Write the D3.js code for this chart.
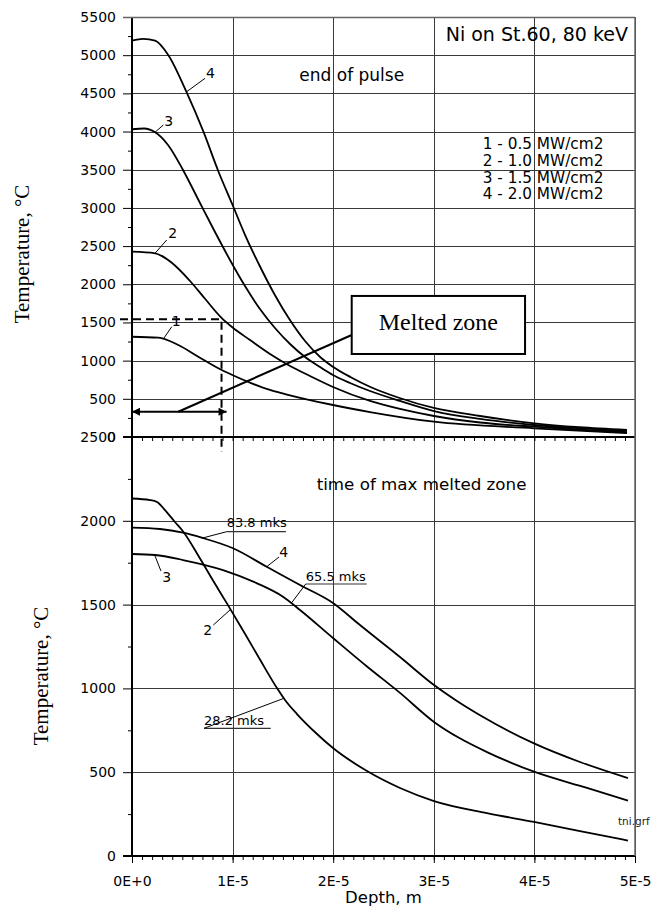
<!DOCTYPE html>
<html>
<head>
<meta charset="utf-8">
<script src="https://cdn.jsdelivr.net/npm/d3@7/dist/d3.min.js"></script>
<style>
  body { margin: 0; background: #fff; }
  svg text { font-family: "DejaVu Sans", sans-serif; fill: #000; }
</style>
</head>
<body>
<div id="chart"></div>
<script>
// depth in micrometres (10 um = 1E-5 m), temperature in deg C

// upper panel: end of pulse, curves 1..4
var pulse1 = [[0,1313],[2.61,1300],[4.6,1205],[6.59,1052],[8.92,877],[9.97,812],[11.9,703],[13.72,616],[15.21,563],[19.98,419],[23.66,327],[30.02,200],[39.96,114],[49.2,52]];
var pulse2 = [[0,2427],[2.3,2406],[3.98,2279],[5.77,2043],[7.26,1810],[8.9,1560],[9.94,1440],[11.73,1270],[13.72,1087],[15.71,930],[17.69,799],[19.98,655],[23.66,472],[26.64,367],[30.02,275],[34.6,190],[39.96,135],[44.53,95],[49.2,65]];
var pulse3 = [[0,4030],[1.2,4040],[2.3,3990],[3.58,3824],[5.07,3497],[6.76,3064],[8.25,2685],[9.74,2318],[11.23,1977],[12.72,1676],[14.21,1427],[15.71,1218],[17.2,1048],[18.69,917],[19.98,812],[21.67,707],[23.66,602],[26.64,472],[30.02,340],[34.6,236],[39.96,157],[44.53,112],[49.2,79]];
var pulse4 = [[0,5190],[1.1,5213],[2.3,5190],[3.6,5003],[5.4,4522],[7.1,3998],[8.6,3474],[10,3038],[11.2,2658],[12.7,2239],[14.2,1860],[15.7,1532],[17.2,1257],[18.7,1048],[20,917],[21.7,786],[23.7,655],[26.6,511],[30,380],[34.6,275],[40,179],[44.5,128],[49.2,92]];

// lower panel: time of max melted zone
var melt2 = [[0,2133],[1.79,2124],[2.49,2112],[3.28,2064],[4.27,1993],[5.1,1935],[6.76,1775],[8.25,1624],[9.54,1497],[11.23,1326],[12.72,1172],[14.41,1002],[15.21,931],[16.4,847],[18.39,728],[19.98,644],[23.36,507],[26.64,406],[30.02,328],[35.29,256],[39.96,203],[44.53,149],[49.3,92]];
var melt3 = [[0,1802],[2.29,1796],[5.07,1766],[9.05,1706],[12.43,1627],[15.01,1547],[16.7,1468],[19.98,1301],[23.36,1131],[26.64,973],[30.02,800],[32.5,705],[35.29,620],[39.96,503],[45.23,406],[49.3,330]];
var melt4 = [[0,1959],[2.78,1951],[5.07,1929],[6.93,1899],[10.04,1836],[13.39,1726],[16.7,1617],[19.98,1510],[22.66,1378],[26.64,1187],[30.02,1020],[32.3,925],[34.6,840],[39.96,672],[44.53,561],[49.3,465]];

var xTickValues = [0, 10, 20, 30, 40, 50];
var xTickLabels = ["0E+0", "1E-5", "2E-5", "3E-5", "4E-5", "5E-5"];
var topTicks = d3.range(0, 5501, 500);
var botTicks = d3.range(0, 2501, 500);
var legendLines = ["1 - 0.5 MW/cm2", "2 - 1.0 MW/cm2", "3 - 1.5 MW/cm2", "4 - 2.0 MW/cm2"];

// curve labels: [text, textDepth, textTemp, leader from (d,T) to (d,T)]
var topLabels = [
  ["4", 7.36, 4697, 5.44, 4522, 7.26, 4697],
  ["3", 3.21, 4073, 2.29, 3990, 3.11, 4086],
  ["2", 3.61, 2602, 2.29, 2406, 3.45, 2580],
  ["1", 3.95, 1454, 3.11, 1283, 3.95, 1444]
];
var botLabels = [
  ["4", 14.64, 1782, 13.39, 1726, 14.61, 1784],
  ["3", 3.01, 1637, 2.29, 1790, 2.88, 1700],
  ["2", 7.09, 1319, 9.74, 1468, 8.08, 1378]
];
// time labels: [text, depth, baseline temp, underline end depth, underline temp, leader from (d,T)]
var timeLabels = [
  ["83.8 mks", 9.41, 1961, 15.3, 1935, 6.93, 1896],
  ["65.5 mks", 17.27, 1641, 23.33, 1623, 15.87, 1511],
  ["28.2 mks", 7.16, 782, 13.79, 762, 15.11, 941]
];

var W = 651, H = 913;
var svg = d3.select("#chart").append("svg").attr("width", W).attr("height", H);

var x = d3.scaleLinear().domain([0, 50]).range([132, 635]);
var yTop = d3.scaleLinear().domain([0, 5500]).range([437, 17]);
var yBot = d3.scaleLinear().domain([0, 2500]).range([856, 437]);

// grid
var grid = svg.append("g").attr("shape-rendering", "crispEdges");
grid.selectAll("line.ht").data(topTicks.slice(1)).enter().append("line")
    .attr("x1", x(0)).attr("x2", x(50))
    .attr("y1", d => Math.round(yTop(d)) + 0.5).attr("y2", d => Math.round(yTop(d)) + 0.5)
    .style("stroke", "#3a3a3a");
grid.selectAll("line.hb").data(botTicks.slice(1, -1)).enter().append("line")
    .attr("x1", x(0)).attr("x2", x(50))
    .attr("y1", d => Math.round(yBot(d)) + 0.5).attr("y2", d => Math.round(yBot(d)) + 0.5)
    .style("stroke", "#3a3a3a");
grid.selectAll("line.v").data(xTickValues.slice(1)).enter().append("line")
    .attr("x1", d => Math.round(x(d)) + 0.5).attr("x2", d => Math.round(x(d)) + 0.5)
    .attr("y1", yTop(5500)).attr("y2", yBot(0))
    .style("stroke", "#3a3a3a");

// axes
function styleAxis(g) {
  g.select(".domain").remove();
  g.selectAll("line").style("stroke", "#000");
  g.selectAll("text").attr("font-family", null).style("font-size", "14px");
}

svg.append("g").attr("transform", "translate(132,0)")
    .call(d3.axisLeft(yTop).tickValues(d3.range(250, 5500, 500)).tickSize(4).tickFormat(""))
    .call(styleAxis);
svg.append("g").attr("transform", "translate(132,0)")
    .call(d3.axisLeft(yTop).tickValues(topTicks).tickSize(9).tickPadding(7).tickFormat(d3.format("d")))
    .call(styleAxis);
svg.append("g").attr("transform", "translate(132,0)")
    .call(d3.axisLeft(yBot).tickValues(d3.range(250, 2500, 500)).tickSize(4).tickFormat(""))
    .call(styleAxis);
svg.append("g").attr("transform", "translate(132,0)")
    .call(d3.axisLeft(yBot).tickValues(botTicks).tickSize(9).tickPadding(7).tickFormat(d3.format("d")))
    .call(styleAxis);

svg.append("g").attr("transform", "translate(0,437)")
    .call(d3.axisBottom(x).tickValues(d3.range(1, 50, 1)).tickSize(4).tickFormat(""))
    .call(styleAxis);
svg.append("g").attr("transform", "translate(0,856)")
    .call(d3.axisBottom(x).tickValues(d3.range(1, 50, 1)).tickSize(4).tickFormat(""))
    .call(styleAxis);
var xAxis = svg.append("g").attr("transform", "translate(0,856)")
    .call(d3.axisBottom(x).tickValues(xTickValues).tickSize(7).tickFormat((d, i) => xTickLabels[i]))
    .call(styleAxis);
xAxis.selectAll("text").attr("y", 30).attr("dy", 0);

// frame
svg.append("line").attr("x1", 132).attr("x2", 132).attr("y1", yTop(5500)).attr("y2", yBot(0))
    .style("stroke", "#000").style("stroke-width", 2);
svg.append("line").attr("x1", 123).attr("x2", x(50)).attr("y1", yTop(0)).attr("y2", yTop(0))
    .style("stroke", "#000").style("stroke-width", 2);
svg.append("line").attr("x1", 123).attr("x2", x(50)).attr("y1", yBot(0)).attr("y2", yBot(0))
    .style("stroke", "#000").style("stroke-width", 2);
svg.append("line").attr("x1", 123).attr("x2", x(50)).attr("y1", 17.5).attr("y2", 17.5)
    .style("stroke", "#666").style("stroke-width", 1.5);
svg.append("line").attr("x1", x(50)).attr("x2", x(50)).attr("y1", yTop(5500)).attr("y2", yBot(0))
    .style("stroke", "#666").style("stroke-width", 1.5);

// curves
var lineTop = d3.line().curve(d3.curveMonotoneX).x(d => x(d[0])).y(d => yTop(d[1]));
var lineBot = d3.line().curve(d3.curveMonotoneX).x(d => x(d[0])).y(d => yBot(d[1]));

svg.append("g").selectAll("path").data([pulse1, pulse2, pulse3, pulse4]).enter().append("path")
    .attr("d", lineTop).style("fill", "none").style("stroke", "#000").style("stroke-width", 1.8);
svg.append("g").selectAll("path").data([melt2, melt3, melt4]).enter().append("path")
    .attr("d", lineBot).style("fill", "none").style("stroke", "#000").style("stroke-width", 1.8);

// curve number labels
function drawLabels(data, y) {
  var g = svg.append("g");
  g.selectAll("line").data(data).enter().append("line")
      .attr("x1", d => x(d[3])).attr("y1", d => y(d[4]))
      .attr("x2", d => x(d[5])).attr("y2", d => y(d[6]))
      .style("stroke", "#000").style("stroke-width", 1);
  g.selectAll("text").data(data).enter().append("text")
      .attr("x", d => x(d[1])).attr("y", d => y(d[2]))
      .style("font-size", "14px")
      .text(d => d[0]);
}
drawLabels(topLabels, yTop);
drawLabels(botLabels, yBot);

var tl = svg.append("g").selectAll("g").data(timeLabels).enter().append("g");
tl.append("text").attr("x", d => x(d[1])).attr("y", d => yBot(d[2]))
    .style("font-size", "13px").text(d => d[0]);
tl.append("line").attr("x1", d => x(d[1])).attr("x2", d => x(d[3]))
    .attr("y1", d => yBot(d[4])).attr("y2", d => yBot(d[4]))
    .style("stroke", "#333").style("stroke-width", 1.2);
tl.append("line").attr("x1", d => x(d[5])).attr("y1", d => yBot(d[6]))
    .attr("x2", d => x(d[1])).attr("y2", d => yBot(d[4]))
    .style("stroke", "#000").style("stroke-width", 1);

// melted zone markup
svg.append("path")
    .attr("d", "M" + 120 + "," + yTop(1541) + "H" + x(8.9) + "V" + 452)
    .style("fill", "none").style("stroke", "#000").style("stroke-width", 2)
    .style("stroke-dasharray", "8,5");

svg.append("defs").append("marker")
    .attr("id", "arrow").attr("viewBox", "0 0 10 10").attr("refX", 10).attr("refY", 5)
    .attr("markerWidth", 10).attr("markerHeight", 8).attr("markerUnits", "userSpaceOnUse")
    .attr("orient", "auto-start-reverse")
  .append("path").attr("d", "M0,0L10,5L0,10z").style("fill", "#000");

svg.append("line")
    .attr("x1", x(0)).attr("x2", x(9.4)).attr("y1", yTop(331)).attr("y2", yTop(331))
    .style("stroke", "#000").style("stroke-width", 2)
    .attr("marker-start", "url(#arrow)").attr("marker-end", "url(#arrow)");
svg.append("line")
    .attr("x1", x(4.6)).attr("y1", yTop(331)).attr("x2", x(21.84)).attr("y2", yTop(1336))
    .style("stroke", "#000").style("stroke-width", 2);
svg.append("rect")
    .attr("x", x(21.84)).attr("y", yTop(1847))
    .attr("width", x(39.07) - x(21.84)).attr("height", yTop(1087) - yTop(1847))
    .style("fill", "#fff").style("stroke", "#000").style("stroke-width", 2);
svg.append("text")
    .attr("x", (x(21.84) + x(39.07)) / 2).attr("y", 330)
    .attr("text-anchor", "middle")
    .style("font-family", "'Liberation Serif', 'Times New Roman', serif").style("font-size", "24px")
    .text("Melted zone");

// titles and notes
svg.append("text").attr("x", 445.7).attr("y", 40.7).style("font-size", "19px").text("Ni on St.60, 80 keV");
svg.append("text").attr("x", 299.3).attr("y", 81).style("font-size", "17px").text("end of pulse");
svg.append("text").attr("x", 316.7).attr("y", 490).style("font-size", "16.7px").text("time of max melted zone");
svg.append("g").selectAll("text").data(legendLines).enter().append("text")
    .attr("x", 482.7).attr("y", (d, i) => 149.3 + i * 16.7)
    .style("font-size", "15.3px").text(d => d);
svg.append("text").attr("x", 618).attr("y", 825).style("font-size", "10.5px").style("fill", "#222").text("tni.grf");

svg.append("text").attr("x", 383.5).attr("y", 903).attr("text-anchor", "middle")
    .style("font-size", "16.5px").text("Depth, m");
svg.append("text").attr("transform", "translate(29,254) rotate(-90)").attr("text-anchor", "middle")
    .style("font-family", "'Liberation Serif', 'Times New Roman', serif").style("font-size", "21px")
    .text("Temperature, \u00B0C");
svg.append("text").attr("transform", "translate(48,676) rotate(-90)").attr("text-anchor", "middle")
    .style("font-family", "'Liberation Serif', 'Times New Roman', serif").style("font-size", "21px")
    .text("Temperature, \u00B0C");
</script>
</body>
</html>
